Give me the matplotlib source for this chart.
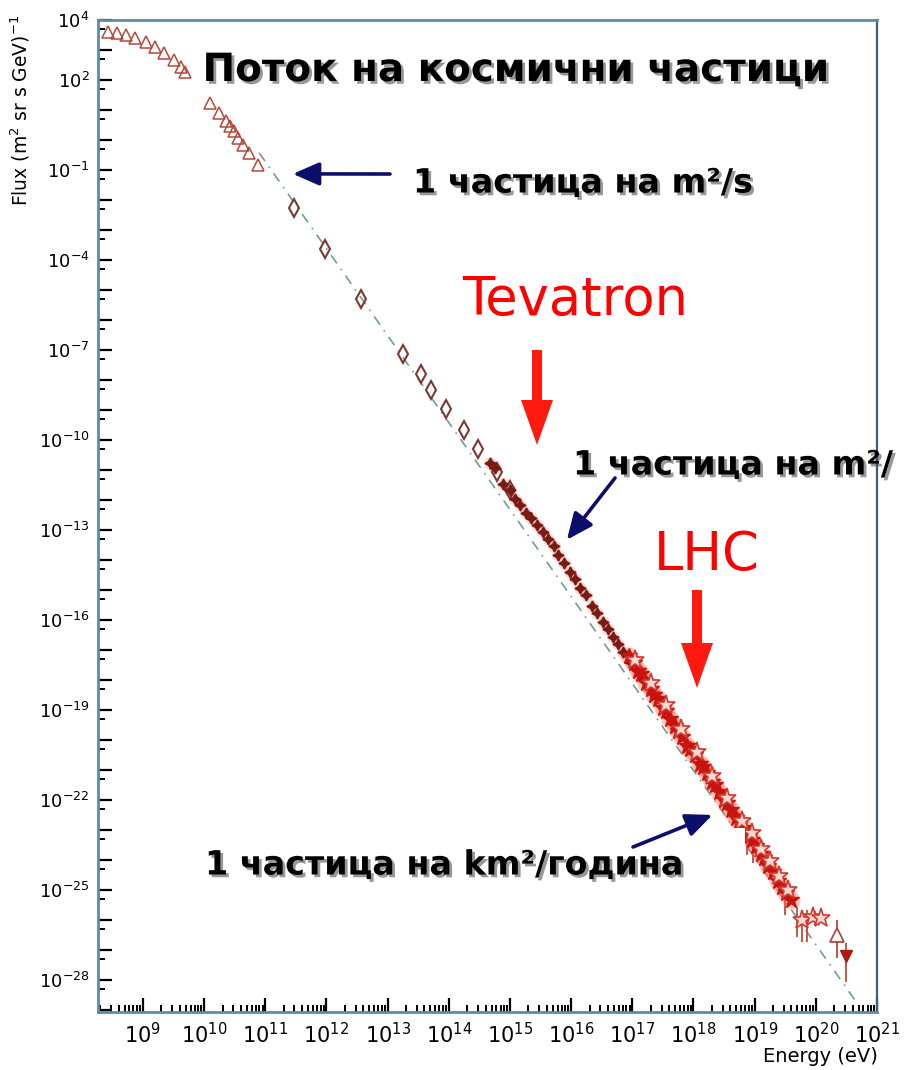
#!/usr/bin/env python3
"""Поток на космични частици - спектър на космичните лъчи (log-log)."""

import matplotlib

matplotlib.use("Agg")
import matplotlib.patheffects as pe
import matplotlib.pyplot as plt
import matplotlib.transforms as mtransforms
import numpy as np
from matplotlib.patches import FancyArrow, Rectangle
from matplotlib.ticker import FixedLocator, FuncFormatter, LogLocator, NullFormatter

W, H, DPI = 906, 1070, 100

# log10(E / eV) и log10(Flux), отчетени от картинката
tri_logE = [8.43, 8.57, 8.72, 8.87, 9.05, 9.2, 9.34, 9.51, 9.62, 9.69,
            10.09, 10.24, 10.36, 10.42, 10.49, 10.55, 10.63, 10.73, 10.88]
tri_logF = [3.6, 3.57, 3.5, 3.4, 3.27, 3.1, 2.9, 2.67, 2.43, 2.27,
            1.23, 0.9, 0.63, 0.47, 0.3, 0.07, -0.17, -0.43, -0.83]

dia_logE = [11.47, 11.97, 12.56, 13.25, 13.54, 13.71, 13.95, 14.25, 14.47, 14.78, 15.0]
dia_logF = [-2.27, -3.63, -5.3, -7.13, -7.8, -8.33, -8.97, -9.67, -10.3, -11.07, -11.67]

knee_logE = [14.67, 14.75, 14.89, 15.0, 15.08, 15.16, 15.27, 15.35, 15.44, 15.54,
             15.62, 15.72, 15.79, 15.88, 15.98, 16.06, 16.15, 16.24, 16.34, 16.43,
             16.52, 16.6, 16.68, 16.77, 16.85, 16.97, 17.07, 17.18]
knee_logF = [-10.76, -10.94, -11.48, -11.67, -11.98, -12.17, -12.42, -12.61, -12.84, -13.06,
             -13.31, -13.53, -13.83, -14.11, -14.39, -14.64, -14.94, -15.17, -15.53, -15.78,
             -16.06, -16.31, -16.56, -16.8, -17.06, -17.39, -17.67, -17.94]

uhe_logE = [16.95, 17.02, 17.1, 17.15, 17.22, 17.3, 17.35, 17.42, 17.5, 17.55,
            17.62, 17.7, 17.75, 17.82, 17.9, 17.95, 18.02, 18.1, 18.15, 18.22,
            18.3, 18.35, 18.42, 18.5, 18.55, 18.62, 18.7, 18.75, 18.82, 18.9,
            18.95, 19.02, 19.1, 19.15, 19.22, 19.3, 19.38, 19.45, 19.52, 19.6]
uhe_logF = [-17.2, -17.45, -17.7, -17.8, -18.1, -18.3, -18.5, -18.65, -18.95, -19.05,
            -19.3, -19.55, -19.7, -19.9, -20.2, -20.3, -20.5, -20.8, -20.9, -21.1,
            -21.4, -21.5, -21.75, -22.0, -22.1, -22.35, -22.6, -22.7, -22.95, -23.2,
            -23.35, -23.55, -23.8, -23.95, -24.2, -24.4, -24.7, -24.9, -25.1, -25.35]

open_star_logE = [17.05, 17.3, 17.55, 17.8, 18.05, 18.3, 18.55, 18.8, 18.95, 19.1,
                  19.25, 19.4, 19.55, 19.77, 19.95, 20.08]
open_star_logF = [-17.35, -18.1, -18.85, -19.65, -20.4, -21.2, -21.95, -22.7, -23.1, -23.65,
                  -24.05, -24.55, -25.0, -26.0, -25.9, -25.93]

err_logE = [18.87, 18.97, 19.5, 19.69, 19.77, 19.85, 19.98]
err_lo = [-23.83, -24.1, -25.83, -26.57, -26.73, -26.73, -26.2]
err_hi = [-22.6, -22.9, -25.0, -25.57, -25.93, -25.67, -25.7]

last_up_logE, last_up_logF, last_up_err = [20.34], [-26.5], ([-27.27], [-26.0])
last_dn_logE, last_dn_logF, last_dn_err = [20.5], [-27.2], ([-28.07], [-26.77])

line_logE = [10.9, 20.7]
line_logF = [-0.43, -28.85]

ylab_exp = [4, 2, -1, -4, -7, -10, -13, -16, -19, -22, -25, -28]


def p10(v):
    return 10.0 ** np.asarray(v, dtype=float)


fig = plt.figure(figsize=(W / DPI, H / DPI), dpi=DPI)
ax = fig.add_axes([98 / W, 1 - 1012 / H, (877 - 98) / W, (1012 - 20) / H])
# пикселни координати (0,0 горе вляво)
pix = mtransforms.Affine2D().scale(1 / DPI, -1 / DPI).translate(0, H / DPI) + fig.dpi_scale_trans

ax.set_xscale("log")
ax.set_yscale("log")
ax.set_xlim(10.0**8.265, 10.0**21)
ax.set_ylim(10.0**-29.07, 10.0**4)

# степенна линия
ax.plot(p10(line_logE), p10(line_logF), ls=(0, (6, 4, 1, 4)), color="#6f9f8c", lw=1.2, zorder=1)

# триъгълници (ниски енергии)
ax.plot(p10(tri_logE), p10(tri_logF), ls="none", marker="^", mfc="none",
        mec="#b5483c", ms=8, mew=1.1, zorder=3)

# ромбове
ax.plot(p10(dia_logE), p10(dia_logF), ls="none", marker="d", mfc="none",
        mec="#7a3a30", ms=9, mew=1.5, zorder=3)

# звездички около коляното
ax.plot(p10(knee_logE), p10(knee_logF), ls="none", marker="o", ms=9,
        color="#f08070", alpha=0.3, mec="none", zorder=2)
ax.plot(p10(knee_logE), p10(knee_logF), ls="none", marker=(4, 1, 0), ms=8,
        color="#7a1a14", zorder=3)

# свръхвисоки енергии
ax.errorbar(p10(err_logE), p10(err_hi), yerr=[p10(err_hi) - p10(err_lo), np.zeros(len(err_hi))],
            fmt="none", ecolor="#c04a3c", elinewidth=1.3, zorder=2)
ax.plot(p10(uhe_logE), p10(uhe_logF), ls="none", marker="o", ms=13,
        color="#ff6050", alpha=0.35, mec="none", zorder=2)
ax.plot(p10(uhe_logE), p10(uhe_logF), ls="none", marker="*", ms=12,
        color="#c8140e", zorder=3)
ax.plot(p10(open_star_logE), p10(open_star_logF), ls="none", marker="*", ms=14,
        mfc="#ffd8d0", mec="#d03a30", mew=1.2, zorder=3)

up_F = p10(last_up_logF)
ax.errorbar(p10(last_up_logE), up_F,
            yerr=[up_F - p10(last_up_err[0]), p10(last_up_err[1]) - up_F],
            fmt="^", mfc="white", mec="#b5483c", ms=10, mew=1.3, ecolor="#b5483c",
            elinewidth=1.3, zorder=3)
dn_F = p10(last_dn_logF)
ax.errorbar(p10(last_dn_logE), dn_F,
            yerr=[dn_F - p10(last_dn_err[0]), p10(last_dn_err[1]) - dn_F],
            fmt="v", color="#b01810", ms=9, ecolor="#c04a3c", elinewidth=1.3, zorder=3)

# оси и деления
ax.xaxis.set_major_locator(FixedLocator([10.0**e for e in range(9, 22)]))
ax.xaxis.set_minor_locator(LogLocator(base=10, subs=np.arange(2, 10), numticks=30))
ax.xaxis.set_minor_formatter(NullFormatter())
ax.xaxis.set_major_formatter(FuncFormatter(lambda v, pos: f"$10^{{{int(round(np.log10(v)))}}}$"))

ax.yaxis.set_major_locator(FixedLocator([10.0**e for e in range(-29, 5)]))
ax.yaxis.set_minor_locator(FixedLocator([5 * 10.0**e for e in range(-30, 4)]))
ax.yaxis.set_minor_formatter(NullFormatter())


def ylabel_fmt(v, pos):
    e = int(round(np.log10(v)))
    return f"$10^{{{e}}}$" if e in ylab_exp else ""


ax.yaxis.set_major_formatter(FuncFormatter(ylabel_fmt))

ax.tick_params(axis="both", which="major", direction="in", length=10, width=1.6, color="black")
ax.tick_params(axis="both", which="minor", direction="in", length=5, width=1.4, color="black")
ax.tick_params(axis="x", which="major", labelsize=15, pad=7)
ax.tick_params(axis="y", which="major", labelsize=13, pad=6)
ax.tick_params(top=False, right=False, which="both")

for side in ["left", "bottom", "top"]:
    ax.spines[side].set_color("#5b8cab")
    ax.spines[side].set_linewidth(2)
ax.spines["right"].set_color("#3f5f78")
ax.spines["right"].set_linewidth(1.6)

fig.text(20, 110, r"Flux (m$^2$ sr s GeV)$^{-1}$", transform=pix, rotation=90,
         ha="center", va="center", fontsize=13.5)
fig.text(878, 1057, "Energy (eV)", transform=pix, ha="right", va="center", fontsize=14)

# надписи
shadow = [pe.withSimplePatchShadow(offset=(2, -2), shadow_rgbFace="#444444", alpha=0.55)]

fig.text(515, 70, "Поток на космични частици", transform=pix, ha="center", va="center",
         fontsize=28, fontweight="bold", path_effects=shadow, zorder=6,
         bbox=dict(facecolor="white", edgecolor="none", pad=4))
fig.text(413, 183, "1 частица на m²/s", transform=pix, ha="left", va="center",
         fontsize=24, fontweight="bold", path_effects=shadow, zorder=6)
fig.text(573, 465, "1 частица на m²/", transform=pix, ha="left", va="center",
         fontsize=24, fontweight="bold", path_effects=shadow, zorder=6)
# бяло поле под долния надпис (закрива част от точките)
ax.add_patch(Rectangle((195, 828), 550, 67, transform=pix, facecolor="white",
                       edgecolor="none", zorder=5, clip_on=False))
fig.text(205, 865, "1 частица на km²/година", transform=pix, ha="left", va="center",
         fontsize=24, fontweight="bold", path_effects=shadow, zorder=6)

fig.text(575, 300, "Tevatron", transform=pix, ha="center", va="center",
         fontsize=38, color="#ff0000", zorder=6)
fig.text(707, 555, "LHC", transform=pix, ha="center", va="center",
         fontsize=38, color="#ff0000", zorder=6)

for x0, y0, y1 in [(537, 350, 445), (697, 590, 688)]:
    fig.add_artist(FancyArrow(x0, y0, 0, y1 - y0, width=10, head_width=32, head_length=45,
                              length_includes_head=True, transform=pix, color="#ff1a10",
                              lw=0, zorder=6))

navy = dict(arrowstyle="-|>,head_length=0.8,head_width=0.35", color="#0d0d6b",
            lw=2.6, mutation_scale=20, shrinkA=0, shrinkB=0)
for (lx, ly), (tx, ty) in [((11.45, -1.13), (390, 174)),
                           ((15.93, -13.33), (615, 478)),
                           ((18.31, -22.5), (633, 847))]:
    ax.annotate("", xy=(10.0**lx, 10.0**ly), xycoords="data", xytext=(tx, ty), textcoords=pix,
                arrowprops=navy, annotation_clip=False, zorder=7)

fig.savefig("out.png", dpi=DPI)
